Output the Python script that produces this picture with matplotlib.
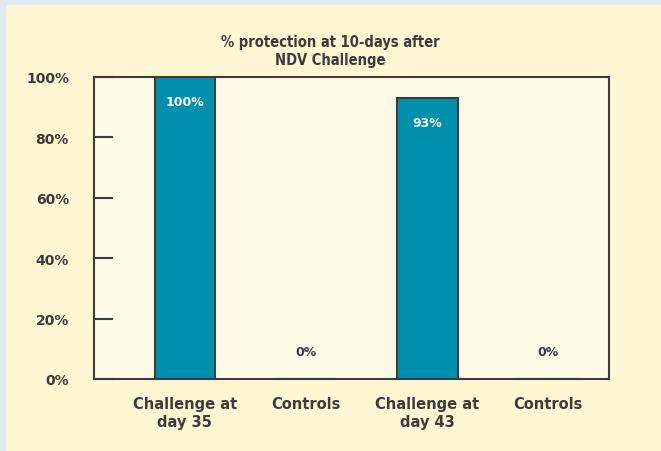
import matplotlib.pyplot as plt
from matplotlib.patches import Rectangle

# data
categories = ['Challenge at\nday 35', 'Controls', 'Challenge at\nday 43', 'Controls']
protection = [100, 0, 93, 0]
yticks = [0, 20, 40, 60, 80, 100]

W, H = 661, 452
fig = plt.figure(figsize=(W / 100, H / 100), dpi=100, facecolor='#dfeaf3')
# cream panel over the light blue frame
panel = Rectangle((6 / W, 0), 1, 1 - 6 / H, transform=fig.transFigure,
                  facecolor='#fff6d4', edgecolor='none')
panel.set_zorder(-10)
fig.add_artist(panel)

ax = fig.add_axes([94 / W, 1 - 380 / H, (609 - 94) / W, (380 - 78) / H])
ax.set_zorder(5)
ax.set_facecolor('#fff9e7')

dark = '#3c3c3c'
x = range(len(categories))
ax.bar(x, protection, width=0.5, color='#008fad', edgecolor=dark, linewidth=1.5, zorder=2)

for xi, v in zip(x, protection):
    if v > 0:
        ax.text(xi, v - 8, f'{v}%', ha='center', va='center', color='white',
                fontsize=9, fontweight='bold')
    else:
        ax.text(xi, v + 9, f'{v}%', ha='center', va='center', color=dark,
                fontsize=9, fontweight='bold')

ax.set_xlim(-0.75, 3.5)
ax.set_ylim(0, 100)
ax.set_yticks(yticks)
ax.set_yticklabels([f'{t}%' for t in yticks], fontsize=10, fontweight='bold', color=dark)
ax.tick_params(axis='y', direction='in', length=14, width=1.5, color=dark, pad=18)
ax.set_xticks(list(x))
ax.set_xticklabels(categories, fontsize=10.5, fontweight='bold', color=dark, linespacing=1.3)
ax.tick_params(axis='x', length=0, pad=12)
for s in ax.spines.values():
    s.set_color(dark)
    s.set_linewidth(1.5)

fig.text(330 / W, 1 - 51 / H, '% protection at 10-days after\nNDV Challenge', ha='center',
         va='center', fontsize=10.5, fontweight='bold', fontstretch='condensed', color=dark,
         linespacing=1.25, family='DejaVu Sans', zorder=6)

fig.savefig('out.png', dpi=100, facecolor=fig.get_facecolor())
